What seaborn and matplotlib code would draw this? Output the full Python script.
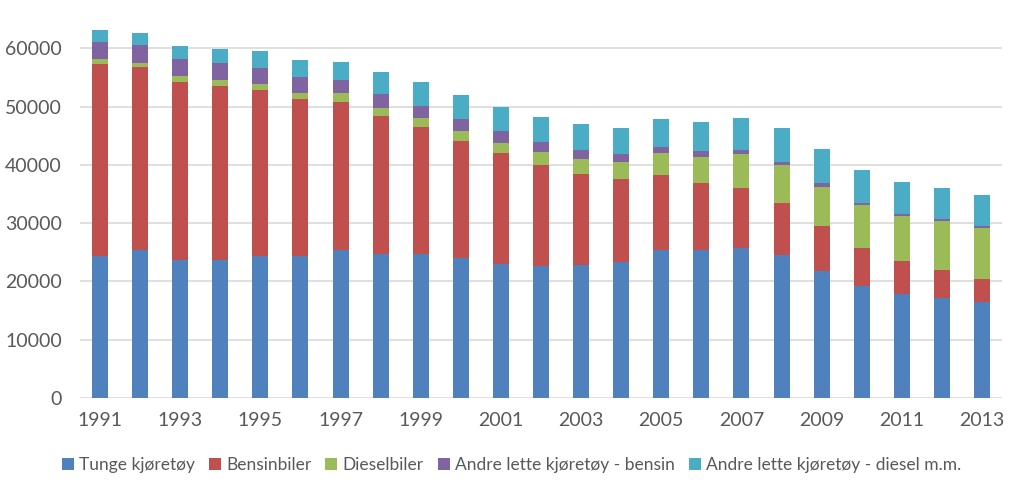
import numpy as np
import pandas as pd
import matplotlib
matplotlib.use("Agg")
import matplotlib.pyplot as plt
import seaborn as sns

# data (segment heights per year)
years = list(range(1991, 2014))
tunge = [24400, 25360, 23640, 23750, 24390, 24390, 25410, 24790, 24670, 23980, 23070, 22610,
         22780, 23350, 25360, 25410, 25700, 24610, 21750, 19180, 17800, 17230, 16430]
bensin = [32950, 31370, 30620, 29830, 28390, 26840, 25420, 23640, 21750, 20150, 18890, 17400,
          15690, 14200, 12990, 11510, 10420, 8930, 7790, 6640, 5730, 4810, 4060]
diesel = [750, 800, 980, 970, 1080, 1030, 1430, 1310, 1550, 1720, 1830, 2180,
          2570, 2920, 3670, 4520, 5720, 6410, 6750, 7320, 7780, 8410, 8760]
andre_bensin = [2980, 3030, 2860, 2980, 2690, 2750, 2290, 2410, 2120, 2000, 1950, 1660,
                1490, 1320, 1080, 920, 750, 630, 630, 350, 340, 290, 230]
andre_diesel = [2060, 2010, 2290, 2290, 2920, 2980, 3090, 3770, 4120, 4130, 4230, 4400,
                4410, 4580, 4750, 5040, 5440, 5790, 5780, 5720, 5440, 5380, 5380]

series_names = ["Tunge kjøretøy", "Bensinbiler", "Dieselbiler",
                "Andre lette kjøretøy - bensin", "Andre lette kjøretøy - diesel m.m."]
colors = ["#4F81BD", "#C0504D", "#9BBB59", "#8064A2", "#4BACC6"]

sns.set_theme(style="white")
plt.rcParams['font.family'] = ['Lato', 'DejaVu Sans']

df = pd.DataFrame({"year": [str(y) for y in years]})
values = [tunge, bensin, diesel, andre_bensin, andre_diesel]

fig = plt.figure(figsize=(10.23, 4.92), dpi=100)
ax = fig.add_axes([80 / 1023, 1 - 398 / 492, 922 / 1023, 398 / 492])

# stack the segments by passing a running bottom
bottom = np.zeros(len(years))
for name, vals, col in zip(series_names, values, colors):
    df["v"] = vals
    sns.barplot(data=df, x="year", y="v", color=col, width=0.4, bottom=bottom,
                label=name, ax=ax, saturation=1, linewidth=0, edgecolor="none")
    bottom = bottom + np.array(vals)

ax.set_xlim(-0.5, len(years) - 0.5)
ax.set_ylim(0, 68300)
ax.set_yticks(range(0, 70000, 10000))
ax.set_xticks(range(0, len(years), 2))
ax.set_xticklabels([str(y) for y in years[::2]])
ax.set_xlabel("")
ax.set_ylabel("")
ax.yaxis.grid(True, color="#d9d9d9", linewidth=1.2)
ax.set_axisbelow(True)
for s in ax.spines.values():
    s.set_visible(False)
ax.tick_params(axis="both", length=0, labelsize=14, colors="#595959")
ax.tick_params(axis="y", pad=13)
ax.tick_params(axis="x", pad=10)

ax.legend().remove()
handles, labels = ax.get_legend_handles_labels()
fig.legend(handles, labels, loc="center", bbox_to_anchor=(0.5, 1 - 465 / 492), ncol=5,
           frameon=False, fontsize=12.5, handlelength=0.7, handleheight=0.7,
           handletextpad=0.3, columnspacing=0.8, labelcolor="#595959")

fig.savefig("out.png", dpi=100)
